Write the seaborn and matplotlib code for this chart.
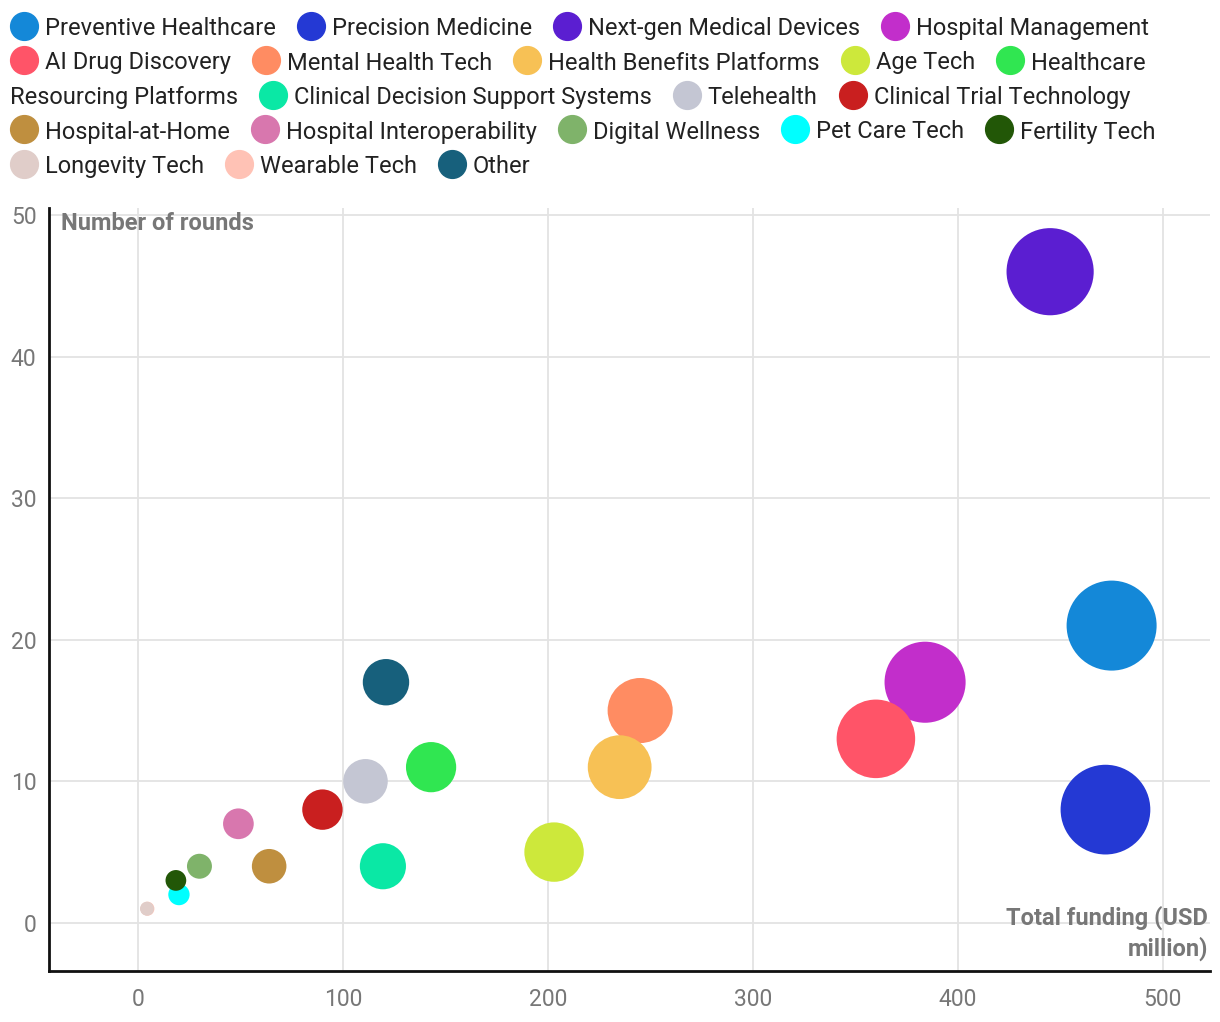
import matplotlib
matplotlib.use("Agg")
import matplotlib.pyplot as plt
import pandas as pd
import seaborn as sns
from matplotlib.lines import Line2D

# data
categories = [
    "Preventive Healthcare", "Precision Medicine", "Next-gen Medical Devices",
    "Hospital Management", "AI Drug Discovery", "Mental Health Tech",
    "Health Benefits Platforms", "Age Tech", "Healthcare Resourcing Platforms",
    "Clinical Decision Support Systems", "Telehealth", "Clinical Trial Technology",
    "Hospital-at-Home", "Hospital Interoperability", "Digital Wellness",
    "Pet Care Tech", "Fertility Tech", "Longevity Tech", "Wearable Tech", "Other",
]
funding = [475, 472, 445, 384, 360, 245, 235, 203, 143, 119.5,
           111, 90, 64, 49, 30, 20, 18.5, 4.4, 4.6, 121]
rounds = [21, 8, 46, 17, 13, 15, 11, 5, 11, 4,
          10, 8, 4, 7, 4, 2, 3, 1, 1, 17]
colors = [
    "#1488d8", "#2439d4", "#5b1ed1", "#c22ecb", "#ff5468", "#ff8c62",
    "#f7c155", "#cde83b", "#30e651", "#0ae8a5", "#c4c6d3", "#c91f1f",
    "#bf8f3f", "#d877ae", "#7fb36a", "#00ffff", "#225707", "#e0cdc9",
    "#ffc2b5", "#17607c",
]

W, H = 1220, 1022
LEG_FS = 17
TICK_FS = 16.5
GRAY = "#777777"

df = pd.DataFrame({"category": categories, "funding": funding, "rounds": rounds})
# big bubbles first so the small ones stay visible
df = df.sort_values("funding", ascending=False, kind="stable")

sns.set_theme(style="whitegrid")
plt.rcParams["font.family"] = ["Roboto", "DejaVu Sans"]

fig = plt.figure(figsize=(W / 100, H / 100), dpi=100)
fig.patch.set_facecolor("white")
ax = fig.add_axes([49 / W, 1 - 971 / H, (1210 - 49) / W, (971 - 208) / H])

sns.scatterplot(
    data=df, x="funding", y="rounds", hue="category", hue_order=categories,
    palette=dict(zip(categories, colors)), size="funding", sizes=(100, 4200),
    legend=False, linewidth=0, alpha=1, ax=ax,
)

ax.set_xlim(-43.4, 523)
ax.set_ylim(-3.4, 50.5)
ax.set_xticks(range(0, 501, 100))
ax.set_yticks(range(0, 51, 10))
ax.set_facecolor("white")
ax.grid(True, color="#e3e3e3", linewidth=1.3)
ax.set_axisbelow(True)
for side in ["top", "right"]:
    ax.spines[side].set_visible(False)
for side in ["left", "bottom"]:
    ax.spines[side].set_color("#111111")
    ax.spines[side].set_linewidth(2)
ax.tick_params(axis="x", length=0, labelsize=TICK_FS, labelcolor=GRAY, pad=12)
ax.tick_params(axis="y", length=0, labelsize=TICK_FS, labelcolor=GRAY, pad=9)
ax.set_xlabel("")
ax.set_ylabel("")

ax.text(12 / 1161, (971 - 224) / 763, "Number of rounds", transform=ax.transAxes,
        ha="left", va="center", fontsize=17, fontweight="bold", color=GRAY)
ax.text(0.998, (971 - 933) / 763, "Total funding (USD\nmillion)", transform=ax.transAxes,
        ha="right", va="center", fontsize=17, fontweight="bold", color=GRAY,
        linespacing=1.35)

# flowing legend across the top, wrapping words like the original
renderer = fig.canvas.get_renderer()


def text_width(s):
    t = fig.text(0, 0, s, fontsize=LEG_FS)
    w = t.get_window_extent(renderer).width
    t.remove()
    return w


def put_text(x, row, s):
    y = 26 + row * 34.5
    fig.text(x / W, 1 - y / H, s, fontsize=LEG_FS, color="#222222",
             ha="left", va="center_baseline")


max_x = 1200
x, row = 10, 0
for cat, col in zip(categories, colors):
    words = cat.split()
    if x + 35 + text_width(words[0]) > max_x:
        row += 1
        x = 10
    y = 26 + row * 34.5
    fig.add_artist(Line2D([(x + 14) / W], [1 - y / H], transform=fig.transFigure,
                          marker="o", markersize=20, color=col, linestyle="none"))
    tx = x + 35
    line = ""
    for word in words:
        cand = (line + " " + word).strip()
        if line and tx + text_width(cand) > max_x:
            put_text(tx, row, line)
            row += 1
            tx = 10
            line = word
        else:
            line = cand
    put_text(tx, row, line)
    x = tx + text_width(line) + 21

fig.savefig("out.png", dpi=100)
